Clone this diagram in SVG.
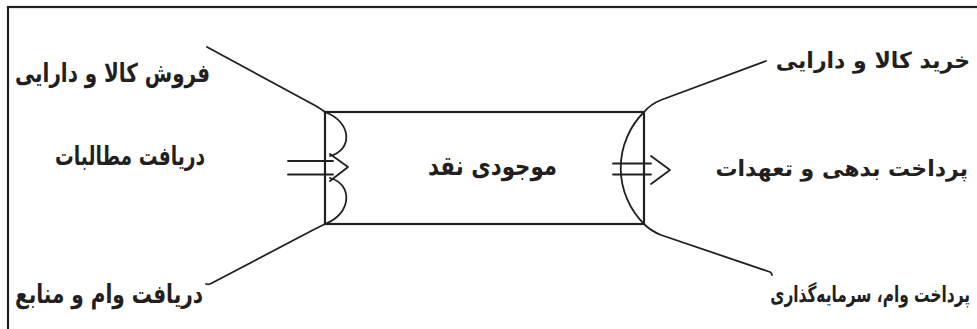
<svg xmlns="http://www.w3.org/2000/svg" width="977" height="329" viewBox="0 0 977 329">
<style>
.ln{fill:none;stroke:#231f20;stroke-width:1.8;stroke-linecap:round;stroke-linejoin:round}
.bx{fill:none;stroke:#231f20;stroke-width:2.2}
.t{font-family:"DejaVu Sans","Noto Sans",sans-serif;font-weight:bold;font-size:26px;fill:#231f20;text-anchor:middle}
.tr{font-size:22px;text-anchor:end}
</style>
<rect width="977" height="329" fill="#fff"/>
<rect class="bx" x="8" y="7" width="1000" height="400"/>
<g id="cash">
<rect class="bx" x="325" y="112" width="319" height="112"/>
<text class="t" x="492.5" y="175" font-size="28" textLength="129" lengthAdjust="spacingAndGlyphs">موجودی نقد</text>
</g>
<g id="connectors">
<path class="ln" d="M207,47 L316,106 Q321,109 325,112"/>
<path class="ln" d="M325,224 Q319,227 313,230 L212,283 Q209,285 206,284"/>
<path class="ln" d="M325,112 C352,122 353,150 330,156"/>
<path class="ln" d="M330,154 L348,167 L330,181"/>
<path class="ln" d="M330,178 C353,184 352,214 325,224"/>
<path class="ln" d="M288,161 L333,161 M288,174.5 L333,174.5"/>
<path class="ln" d="M644,112 A79,79 0 0 0 644,224"/>
<path class="ln" d="M644,112 Q651,104 661,100 L766,61"/>
<path class="ln" d="M644,224 Q651,231 661,235 L770,272 Q772,273 772,275"/>
<path class="ln" d="M613,163.5 L651,163.5 M613,174.5 L651,174.5"/>
<path class="ln" d="M651,156 L670,170 L651,184"/>
</g>
<g id="sale"><text class="t" x="112.5" y="82" textLength="195" lengthAdjust="spacingAndGlyphs">فروش کالا و دارایی</text></g>
<g id="receivables"><text class="t" x="130" y="165" textLength="150" lengthAdjust="spacingAndGlyphs">دریافت مطالبات</text></g>
<g id="loans-in"><text class="t" x="109" y="303" textLength="188" lengthAdjust="spacingAndGlyphs">دریافت وام و منابع</text></g>
<g id="purchase"><text class="t tr" x="970" y="68">خرید کالا و دارایی</text></g>
<g id="debts"><text class="t tr" x="968" y="176">پرداخت بدهی و تعهدات</text></g>
<g id="loans-out"><text class="t tr" transform="translate(970,302) scale(0.7,1)" x="0" y="0" font-size="23">پرداخت وام، سرمایه‌گذاری</text></g>
</svg>
